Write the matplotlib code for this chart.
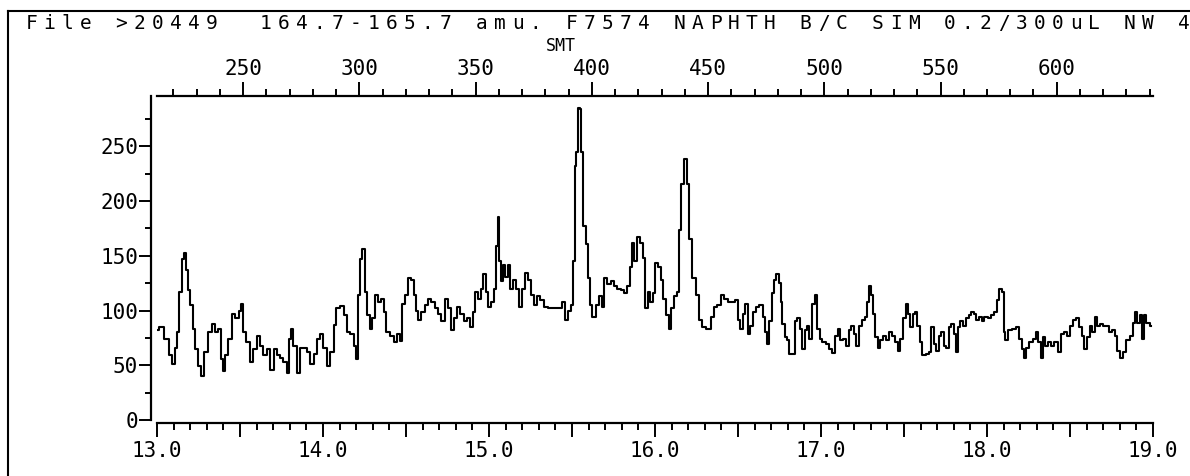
import matplotlib
matplotlib.use('Agg')
import matplotlib.pyplot as plt
from matplotlib.ticker import MultipleLocator, FuncFormatter
from matplotlib.lines import Line2D

header = 'File >20449  164.7-165.7 amu. F7574 NAPHTH B/C SIM 0.2/300uL NW 4'
top_label = 'SMT'

# retention time (min) and abundance
rt = [13.000, 13.028, 13.058, 13.088, 13.098, 13.115, 13.129, 13.139, 13.159, 13.169,
      13.179, 13.189, 13.209, 13.219, 13.239, 13.259, 13.275, 13.296, 13.320, 13.340,
      13.360, 13.376, 13.390, 13.404, 13.420, 13.440, 13.460, 13.481, 13.501, 13.517,
      13.525, 13.551, 13.571, 13.591, 13.611, 13.631, 13.651, 13.671, 13.692, 13.712,
      13.732, 13.752, 13.772, 13.792, 13.798, 13.812, 13.832, 13.852, 13.873, 13.893,
      13.913, 13.933, 13.953, 13.973, 13.993, 14.013, 14.033, 14.053, 14.074, 14.088,
      14.114, 14.134, 14.154, 14.174, 14.194, 14.208, 14.214, 14.228, 14.244, 14.258,
      14.274, 14.290, 14.305, 14.321, 14.341, 14.361, 14.375, 14.389, 14.415, 14.435,
      14.456, 14.470, 14.486, 14.506, 14.522, 14.542, 14.556, 14.566, 14.582, 14.603,
      14.622, 14.643, 14.663, 14.683, 14.703, 14.717, 14.747, 14.763, 14.783, 14.797,
      14.817, 14.838, 14.858, 14.878, 14.894, 14.908, 14.924, 14.944, 14.958, 14.974,
      14.988, 15.004, 15.025, 15.034, 15.045, 15.059, 15.065, 15.079, 15.089, 15.105,
      15.119, 15.139, 15.153, 15.173, 15.189, 15.206, 15.226, 15.245, 15.266, 15.280,
      15.300, 15.320, 15.340, 15.370, 15.400, 15.431, 15.447, 15.467, 15.481, 15.501,
      15.511, 15.521, 15.531, 15.541, 15.551, 15.561, 15.575, 15.592, 15.601, 15.612,
      15.632, 15.652, 15.668, 15.688, 15.702, 15.722, 15.742, 15.762, 15.782, 15.803,
      15.823, 15.843, 15.857, 15.869, 15.883, 15.903, 15.917, 15.933, 15.949, 15.963,
      15.978, 15.993, 16.010, 16.030, 16.044, 16.058, 16.074, 16.090, 16.104, 16.124,
      16.138, 16.150, 16.165, 16.185, 16.199, 16.215, 16.235, 16.255, 16.271, 16.295,
      16.325, 16.346, 16.366, 16.386, 16.406, 16.426, 16.452, 16.476, 16.492, 16.506,
      16.520, 16.536, 16.552, 16.566, 16.581, 16.596, 16.617, 16.641, 16.657, 16.673,
      16.681, 16.697, 16.707, 16.723, 16.737, 16.753, 16.762, 16.774, 16.788, 16.802,
      16.818, 16.834, 16.848, 16.868, 16.882, 16.894, 16.908, 16.922, 16.938, 16.955,
      16.969, 16.983, 16.999, 17.019, 17.039, 17.059, 17.079, 17.095, 17.109, 17.124,
      17.139, 17.160, 17.176, 17.190, 17.204, 17.220, 17.236, 17.256, 17.276, 17.284,
      17.296, 17.311, 17.321, 17.331, 17.351, 17.365, 17.381, 17.397, 17.417, 17.437,
      17.451, 17.471, 17.486, 17.501, 17.518, 17.531, 17.546, 17.558, 17.572, 17.586,
      17.602, 17.618, 17.642, 17.658, 17.672, 17.686, 17.703, 17.718, 17.733, 17.747,
      17.763, 17.779, 17.793, 17.807, 17.819, 17.833, 17.847, 17.863, 17.884, 17.899,
      17.914, 17.928, 17.944, 17.960, 17.974, 17.994, 18.014, 18.034, 18.054, 18.068,
      18.080, 18.095, 18.104, 18.115, 18.135, 18.161, 18.185, 18.201, 18.215, 18.225,
      18.245, 18.265, 18.285, 18.302, 18.315, 18.330, 18.342, 18.356, 18.376, 18.396,
      18.416, 18.436, 18.456, 18.476, 18.490, 18.507, 18.526, 18.547, 18.563, 18.577,
      18.597, 18.611, 18.627, 18.644, 18.657, 18.672, 18.688, 18.708, 18.728, 18.744,
      18.764, 18.778, 18.792, 18.808, 18.828, 18.849, 18.869, 18.885, 18.899, 18.913,
      18.925, 18.939, 18.949, 18.970, 18.990]
abund = [82, 85, 74, 59, 51, 66, 80, 117, 147, 153,
         137, 119, 105, 83, 65, 49, 40, 62, 80, 88,
         80, 83, 56, 45, 59, 74, 97, 93, 100, 106,
         80, 71, 53, 65, 77, 68, 59, 65, 46, 65,
         59, 57, 53, 43, 74, 83, 68, 43, 66, 66,
         62, 51, 60, 74, 79, 66, 49, 62, 87, 102,
         104, 96, 80, 79, 68, 56, 114, 147, 156, 117,
         96, 83, 93, 114, 108, 111, 99, 80, 77, 71,
         79, 72, 106, 114, 130, 128, 114, 100, 91, 99,
         105, 111, 108, 102, 97, 90, 111, 102, 82, 93,
         103, 97, 90, 93, 85, 99, 117, 111, 120, 133,
         117, 103, 108, 120, 159, 185, 145, 127, 142, 131,
         142, 120, 128, 120, 103, 120, 134, 128, 114, 105,
         113, 110, 103, 102, 102, 102, 108, 91, 100, 105,
         145, 232, 245, 285, 284, 245, 177, 161, 130, 105,
         94, 105, 113, 103, 130, 124, 127, 122, 120, 119,
         116, 122, 140, 162, 145, 167, 162, 148, 102, 117,
         108, 116, 143, 140, 128, 111, 96, 83, 102, 113,
         117, 174, 216, 238, 216, 165, 130, 114, 91, 85,
         83, 94, 103, 105, 114, 111, 108, 108, 110, 91,
         83, 97, 106, 79, 86, 99, 103, 105, 94, 80,
         69, 90, 116, 128, 133, 125, 108, 88, 76, 73,
         60, 60, 90, 93, 83, 65, 82, 86, 74, 106,
         114, 83, 74, 71, 69, 65, 61, 77, 83, 73,
         74, 68, 82, 86, 79, 68, 86, 91, 94, 108,
         122, 114, 97, 76, 66, 73, 77, 73, 80, 77,
         71, 63, 74, 93, 106, 97, 85, 97, 99, 86,
         71, 59, 60, 62, 85, 69, 63, 77, 80, 68,
         66, 85, 88, 79, 62, 85, 90, 86, 93, 96,
         99, 97, 91, 94, 90, 94, 93, 96, 99, 110,
         120, 117, 80, 73, 82, 83, 85, 74, 65, 57,
         66, 71, 74, 80, 71, 57, 76, 68, 71, 68,
         71, 62, 79, 80, 77, 86, 91, 93, 85, 77,
         65, 76, 86, 80, 94, 86, 88, 86, 86, 80,
         82, 77, 63, 57, 62, 73, 77, 89, 99, 89,
         96, 74, 96, 89, 86]

# scan number on the top axis vs retention time
scan_at_13 = 213.0
scans_per_min = 71.4

W, H = 1190, 476
fig = plt.figure(figsize=(W / 100, H / 100), dpi=100)
ax = fig.add_axes([157 / W, (H - 420) / H, 996 / W, (420 - 96) / H])

ax.plot(rt, abund, color='black', lw=1.5, drawstyle='steps-mid')
ax.set_xlim(13.0, 19.0)
ax.set_ylim(0, 296)

mono = 'DejaVu Sans Mono'
for side in ['top', 'right']:
    ax.spines[side].set_visible(False)
ax.spines['left'].set_position(('outward', 4))
ax.spines['bottom'].set_position(('outward', 2))
for side in ['left', 'bottom']:
    ax.spines[side].set_linewidth(1.6)

ax.xaxis.set_major_locator(MultipleLocator(0.5))
ax.xaxis.set_minor_locator(MultipleLocator(0.1))
ax.xaxis.set_major_formatter(FuncFormatter(lambda v, p: f'{v:.1f}' if abs(v - round(v)) < 1e-6 else ''))
ax.tick_params(axis='x', which='major', length=10, width=1.4, pad=3, labelsize=15)
ax.tick_params(axis='x', which='minor', length=5, width=1.4)

ax.yaxis.set_major_locator(MultipleLocator(50))
ax.yaxis.set_minor_locator(MultipleLocator(25))
ax.tick_params(axis='y', which='major', length=9, width=1.4, pad=0.5, labelsize=15)
ax.tick_params(axis='y', which='minor', length=4, width=1.4)

sec = ax.secondary_xaxis('top', functions=(lambda t: scan_at_13 + scans_per_min * (t - 13.0),
                                           lambda s: 13.0 + (s - scan_at_13) / scans_per_min))
sec.xaxis.set_major_locator(MultipleLocator(50))
sec.xaxis.set_minor_locator(MultipleLocator(10))
sec.tick_params(axis='x', which='major', length=10, width=1.4, pad=2, labelsize=15)
sec.tick_params(axis='x', which='minor', length=5, width=1.4)
sec.spines['top'].set_linewidth(1.6)
sec.set_xlabel(top_label, fontsize=12, family=mono, labelpad=6, x=(561 - 157) / 996)

for lab in ax.get_xticklabels() + ax.get_yticklabels() + sec.get_xticklabels():
    lab.set_family(mono)

# header line, typed with a fixed character pitch
pitch = 18.0
for i, ch in enumerate(header):
    if ch != ' ':
        fig.text((31.5 + i * pitch) / W, 1 - 29 / H, ch, ha='center', va='baseline',
                 fontsize=14, family=mono)

# page border
fig.add_artist(Line2D([8 / W, 8 / W], [0, 1 - 11 / H], color='black', lw=1.5))
fig.add_artist(Line2D([8 / W, 1], [1 - 11 / H, 1 - 11 / H], color='black', lw=1.5))

fig.savefig('out.png', dpi=100)
